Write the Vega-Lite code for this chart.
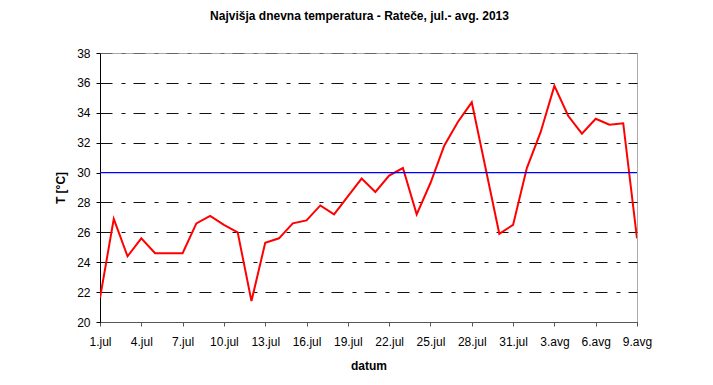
{
  "$schema": "https://vega.github.io/schema/vega-lite/v6.json",
  "width": 537,
  "height": 269,
  "autosize": {"type": "none"},
  "padding": {"left": 100, "top": 53, "right": 76, "bottom": 63},
  "background": "white",
  "title": {
    "text": "Najvišja dnevna temperatura - Rateče, jul.- avg. 2013",
    "font": "Liberation Sans",
    "fontSize": 12,
    "fontWeight": "bold",
    "color": "black",
    "anchor": "middle",
    "offset": 24,
    "dx": -9
  },
  "config": {
    "view": {"stroke": "#aaaaaa", "strokeWidth": 1},
    "axis": {"labelFont": "Liberation Sans", "titleFont": "Liberation Sans", "labelFontSize": 12, "titleFontSize": 12, "titleFontWeight": "bold", "labelColor": "black", "titleColor": "black"}
  },
  "layer": [
    {
      "data": {"values": [
        {"datum": "2013-07-01", "T": 21.6},
        {"datum": "2013-07-02", "T": 26.9},
        {"datum": "2013-07-03", "T": 24.4},
        {"datum": "2013-07-04", "T": 25.6},
        {"datum": "2013-07-05", "T": 24.6},
        {"datum": "2013-07-06", "T": 24.6},
        {"datum": "2013-07-07", "T": 24.6},
        {"datum": "2013-07-08", "T": 26.6},
        {"datum": "2013-07-09", "T": 27.1},
        {"datum": "2013-07-10", "T": 26.5},
        {"datum": "2013-07-11", "T": 26.0},
        {"datum": "2013-07-12", "T": 21.4},
        {"datum": "2013-07-13", "T": 25.3},
        {"datum": "2013-07-14", "T": 25.6},
        {"datum": "2013-07-15", "T": 26.6},
        {"datum": "2013-07-16", "T": 26.8},
        {"datum": "2013-07-17", "T": 27.8},
        {"datum": "2013-07-18", "T": 27.2},
        {"datum": "2013-07-19", "T": 28.4},
        {"datum": "2013-07-20", "T": 29.6},
        {"datum": "2013-07-21", "T": 28.7},
        {"datum": "2013-07-22", "T": 29.8},
        {"datum": "2013-07-23", "T": 30.3},
        {"datum": "2013-07-24", "T": 27.2},
        {"datum": "2013-07-25", "T": 29.3},
        {"datum": "2013-07-26", "T": 31.8},
        {"datum": "2013-07-27", "T": 33.4},
        {"datum": "2013-07-28", "T": 34.7},
        {"datum": "2013-07-29", "T": 30.3},
        {"datum": "2013-07-30", "T": 25.9},
        {"datum": "2013-07-31", "T": 26.5},
        {"datum": "2013-08-01", "T": 30.3},
        {"datum": "2013-08-02", "T": 32.7},
        {"datum": "2013-08-03", "T": 35.8},
        {"datum": "2013-08-04", "T": 33.8},
        {"datum": "2013-08-05", "T": 32.6},
        {"datum": "2013-08-06", "T": 33.6},
        {"datum": "2013-08-07", "T": 33.2},
        {"datum": "2013-08-08", "T": 33.3},
        {"datum": "2013-08-09", "T": 25.6}
      ]},
      "mark": {"type": "line", "color": "#ff0000", "strokeWidth": 2, "clip": true},
      "encoding": {
        "x": {
          "field": "datum", "type": "temporal",
          "scale": {"type": "utc", "domain": [1372636800000, 1376006400000]},
          "axis": {
            "title": "datum",
            "values": [1372636800000, 1372896000000, 1373155200000, 1373414400000, 1373673600000, 1373932800000, 1374192000000, 1374451200000, 1374710400000, 1374969600000, 1375228800000, 1375488000000, 1375747200000, 1376006400000],
            "labelExpr": "utcdate(datum.value) + '.' + (utcmonth(datum.value) == 6 ? 'jul' : 'avg')",
            "grid": false,
            "domainColor": "#555555",
            "tickColor": "#555555",
            "tickSize": 4,
            "labelPadding": 10,
            "labelFlush": false,
            "labelOverlap": false,
            "titlePadding": 13
          }
        },
        "y": {
          "field": "T", "type": "quantitative",
          "scale": {"domain": [20, 38], "nice": false, "zero": false},
          "axis": {
            "title": "T [°C]",
            "values": [20, 22, 24, 26, 28, 30, 32, 34, 36, 38],
            "labelOverlap": false,
            "grid": true,
            "gridColor": {"condition": [{"test": "datum.value == 30", "value": "transparent"}, {"test": "datum.value == 38", "value": "#666666"}], "value": "#111111"},
            "gridDash": [12, 9, 4, 8],
            "gridWidth": 1,
            "domainColor": "black",
            "tickColor": "black",
            "tickSize": 4,
            "labelPadding": 6,
            "titlePadding": 9
          }
        }
      }
    },
    {
      "data": {"values": [{"meja": 30}]},
      "mark": {"type": "rule", "color": "#0000ff", "strokeWidth": 1.2},
      "encoding": {
        "y": {
          "field": "meja", "type": "quantitative",
          "scale": {"domain": [20, 38], "nice": false, "zero": false},
          "axis": {
            "title": "T [°C]",
            "values": [20, 22, 24, 26, 28, 30, 32, 34, 36, 38],
            "labelOverlap": false,
            "grid": true,
            "gridColor": {"condition": [{"test": "datum.value == 30", "value": "transparent"}, {"test": "datum.value == 38", "value": "#666666"}], "value": "#111111"},
            "gridDash": [12, 9, 4, 8],
            "gridWidth": 1,
            "domainColor": "black",
            "tickColor": "black",
            "tickSize": 4,
            "labelPadding": 6,
            "titlePadding": 9
          }
        }
      }
    }
  ]
}
